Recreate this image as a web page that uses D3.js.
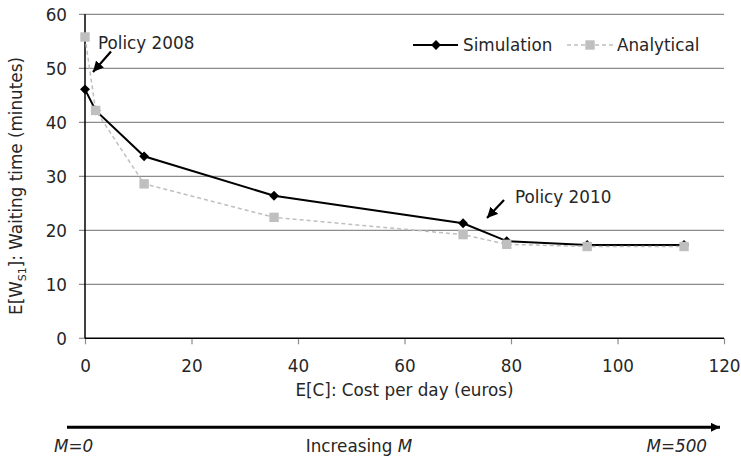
<!DOCTYPE html>
<html>
<head>
<meta charset="utf-8">
<script src="https://cdn.jsdelivr.net/npm/d3@7"></script>
<style>
  body { margin: 0; background: #fff; }
  svg text { font-family: "DejaVu Sans", sans-serif; fill: #262626; }
</style>
</head>
<body>
<svg id="chart" width="741" height="460"></svg>
<script>
// Expected cost per day (euros) for each policy
const costSim = [0, 2.0, 11.1, 35.5, 71.0, 79.2, 94.3, 112.5];
const costAna = [0, 2.0, 11.1, 35.5, 71.0, 79.2, 94.3, 112.5];
// Expected waiting time (minutes)
const waitSim = [46.1, 42.2, 33.7, 26.4, 21.3, 18.0, 17.3, 17.3];
const waitAna = [55.8, 42.2, 28.6, 22.4, 19.2, 17.4, 17.0, 17.0];
const xTicks = [0, 20, 40, 60, 80, 100, 120];
const yTicks = [0, 10, 20, 30, 40, 50, 60];
const seriesNames = ["Simulation", "Analytical"];

const svg = d3.select("#chart");
const plotLeft = 85, plotRight = 724, plotTop = 14.3, plotBottom = 338.3;
const x = d3.scaleLinear().domain([0, 120]).range([plotLeft, plotRight]);
const y = d3.scaleLinear().domain([0, 60]).range([plotBottom, plotTop]);
const fs = 16.8;

// horizontal gridlines (with outside tick stubs)
svg.append("g").selectAll("line").data(yTicks.filter(d => d > 0)).join("line")
  .attr("x1", plotLeft - 6).attr("x2", plotRight)
  .attr("y1", d => y(d)).attr("y2", d => y(d))
  .attr("stroke", "#8c8c8c").attr("stroke-width", 1.2);
// y tick at zero
svg.append("line").attr("x1", plotLeft - 6).attr("x2", plotLeft).attr("y1", y(0)).attr("y2", y(0))
  .attr("stroke", "#8c8c8c").attr("stroke-width", 1.2);

// x axis
const xAxis = svg.append("g").attr("transform", `translate(0,${y(0)})`)
  .call(d3.axisBottom(x).tickValues(xTicks).tickSize(6).tickSizeOuter(0).tickFormat(d3.format("d")));
xAxis.select(".domain").remove();
xAxis.selectAll(".tick line").attr("stroke", "#8c8c8c").attr("stroke-width", 1.2);
xAxis.selectAll(".tick text").attr("y", 27.4).attr("dy", "0.35em")
  .style("font-size", fs + "px").style("font-family", "DejaVu Sans").attr("fill", "#262626");

// y axis labels
const yAxis = svg.append("g").attr("transform", `translate(${plotLeft},0)`)
  .call(d3.axisLeft(y).tickValues(yTicks).tickSize(0).tickFormat(d3.format("d")));
yAxis.select(".domain").remove();
yAxis.selectAll(".tick text").attr("x", -18).attr("dy", "0.35em")
  .style("font-size", fs + "px").style("font-family", "DejaVu Sans").attr("fill", "#262626");

// axis lines
svg.append("line").attr("x1", plotLeft).attr("x2", plotRight).attr("y1", y(0)).attr("y2", y(0))
  .attr("stroke", "#000").attr("stroke-width", 1.5);
svg.append("line").attr("x1", plotLeft).attr("x2", plotLeft).attr("y1", y(0)).attr("y2", y(60))
  .attr("stroke", "#000").attr("stroke-width", 1.5);

// axis titles
svg.append("text").attr("x", (plotLeft + plotRight) / 2).attr("y", 390).attr("dy", "0.35em")
  .attr("text-anchor", "middle").style("font-size", fs + "px")
  .text("E[C]: Cost per day (euros)");

const yt = svg.append("text").attr("transform", "translate(16.5,186) rotate(-90)")
  .attr("dy", "0.35em").attr("text-anchor", "middle").style("font-size", fs + "px");
yt.append("tspan").text("E[W");
yt.append("tspan").attr("dy", 4).style("font-size", "11px").text("S1");
yt.append("tspan").attr("dy", -4).text("]: Waiting time (minutes)");

// series
const simData = costSim.map((c, i) => [c, waitSim[i]]);
const anaData = costAna.map((c, i) => [c, waitAna[i]]);
const line = d3.line().x(d => x(d[0])).y(d => y(d[1]));

svg.append("path").datum(simData).attr("d", line)
  .attr("fill", "none").attr("stroke", "#000").attr("stroke-width", 2);
const diamond = d3.symbol().type(d3.symbolDiamond2).size(62);
svg.append("g").selectAll("path").data(simData).join("path")
  .attr("d", diamond).attr("transform", d => `translate(${x(d[0])},${y(d[1])})`)
  .attr("fill", "#000");

svg.append("path").datum(anaData).attr("d", line)
  .attr("fill", "none").attr("stroke", "#bfbfbf").attr("stroke-width", 1.5)
  .attr("stroke-dasharray", "4,3");
svg.append("g").selectAll("rect").data(anaData).join("rect")
  .attr("x", d => x(d[0]) - 4.7).attr("y", d => y(d[1]) - 4.7)
  .attr("width", 9.4).attr("height", 9.4).attr("fill", "#bfbfbf");

// legend
const ly = 45;
svg.append("line").attr("x1", 413).attr("x2", 458).attr("y1", ly).attr("y2", ly)
  .attr("stroke", "#000").attr("stroke-width", 2);
svg.append("path").attr("d", diamond).attr("transform", `translate(436,${ly})`).attr("fill", "#000");
svg.append("text").attr("x", 463).attr("y", ly).attr("dy", "0.35em").style("font-size", fs + "px").text(seriesNames[0]);
svg.append("line").attr("x1", 567).attr("x2", 613).attr("y1", ly).attr("y2", ly)
  .attr("stroke", "#bfbfbf").attr("stroke-width", 1.5).attr("stroke-dasharray", "4,3");
svg.append("rect").attr("x", 590 - 4.7).attr("y", ly - 4.7).attr("width", 9.4).attr("height", 9.4).attr("fill", "#bfbfbf");
svg.append("text").attr("x", 617).attr("y", ly).attr("dy", "0.35em").style("font-size", fs + "px").text(seriesNames[1]);

// arrowhead markers
const defs = svg.append("defs");
defs.append("marker").attr("id", "head").attr("viewBox", "0 0 10 10")
  .attr("refX", 10).attr("refY", 5).attr("markerWidth", 4.8).attr("markerHeight", 4.8)
  .attr("markerUnits", "strokeWidth").attr("orient", "auto")
  .append("path").attr("d", "M0,0 L10,5 L0,10 Z").attr("fill", "#000");
defs.append("marker").attr("id", "bighead").attr("viewBox", "0 0 10 10")
  .attr("refX", 10).attr("refY", 5).attr("markerWidth", 3).attr("markerHeight", 3)
  .attr("markerUnits", "strokeWidth").attr("orient", "auto")
  .append("path").attr("d", "M0,0 L10,5 L0,10 Z").attr("fill", "#000");

// policy annotations
svg.append("text").attr("x", 98).attr("y", 43).attr("dy", "0.35em").style("font-size", fs + "px").text("Policy 2008");
svg.append("line").attr("x1", 111).attr("y1", 51.5).attr("x2", 93).attr("y2", 72)
  .attr("stroke", "#000").attr("stroke-width", 2.2).attr("marker-end", "url(#head)");
svg.append("text").attr("x", 515).attr("y", 197).attr("dy", "0.35em").style("font-size", fs + "px").text("Policy 2010");
svg.append("line").attr("x1", 504).attr("y1", 200).attr("x2", 487).attr("y2", 218)
  .attr("stroke", "#000").attr("stroke-width", 2.2).attr("marker-end", "url(#head)");

// increasing M arrow
svg.append("line").attr("x1", 67).attr("x2", 720).attr("y1", 427.3).attr("y2", 427.3)
  .attr("stroke", "#000").attr("stroke-width", 3).attr("marker-end", "url(#bighead)");
svg.append("text").attr("x", 54).attr("y", 446.5).attr("dy", "0.35em").style("font-size", fs + "px")
  .style("font-style", "italic").text("M=0");
const inc = svg.append("text").attr("x", 359).attr("y", 446.5).attr("dy", "0.35em")
  .attr("text-anchor", "middle").style("font-size", fs + "px");
inc.append("tspan").text("Increasing ");
inc.append("tspan").style("font-style", "italic").text("M");
svg.append("text").attr("x", 707).attr("y", 446.5).attr("dy", "0.35em").attr("text-anchor", "end")
  .style("font-size", fs + "px").style("font-style", "italic").text("M=500");
</script>
</body>
</html>
